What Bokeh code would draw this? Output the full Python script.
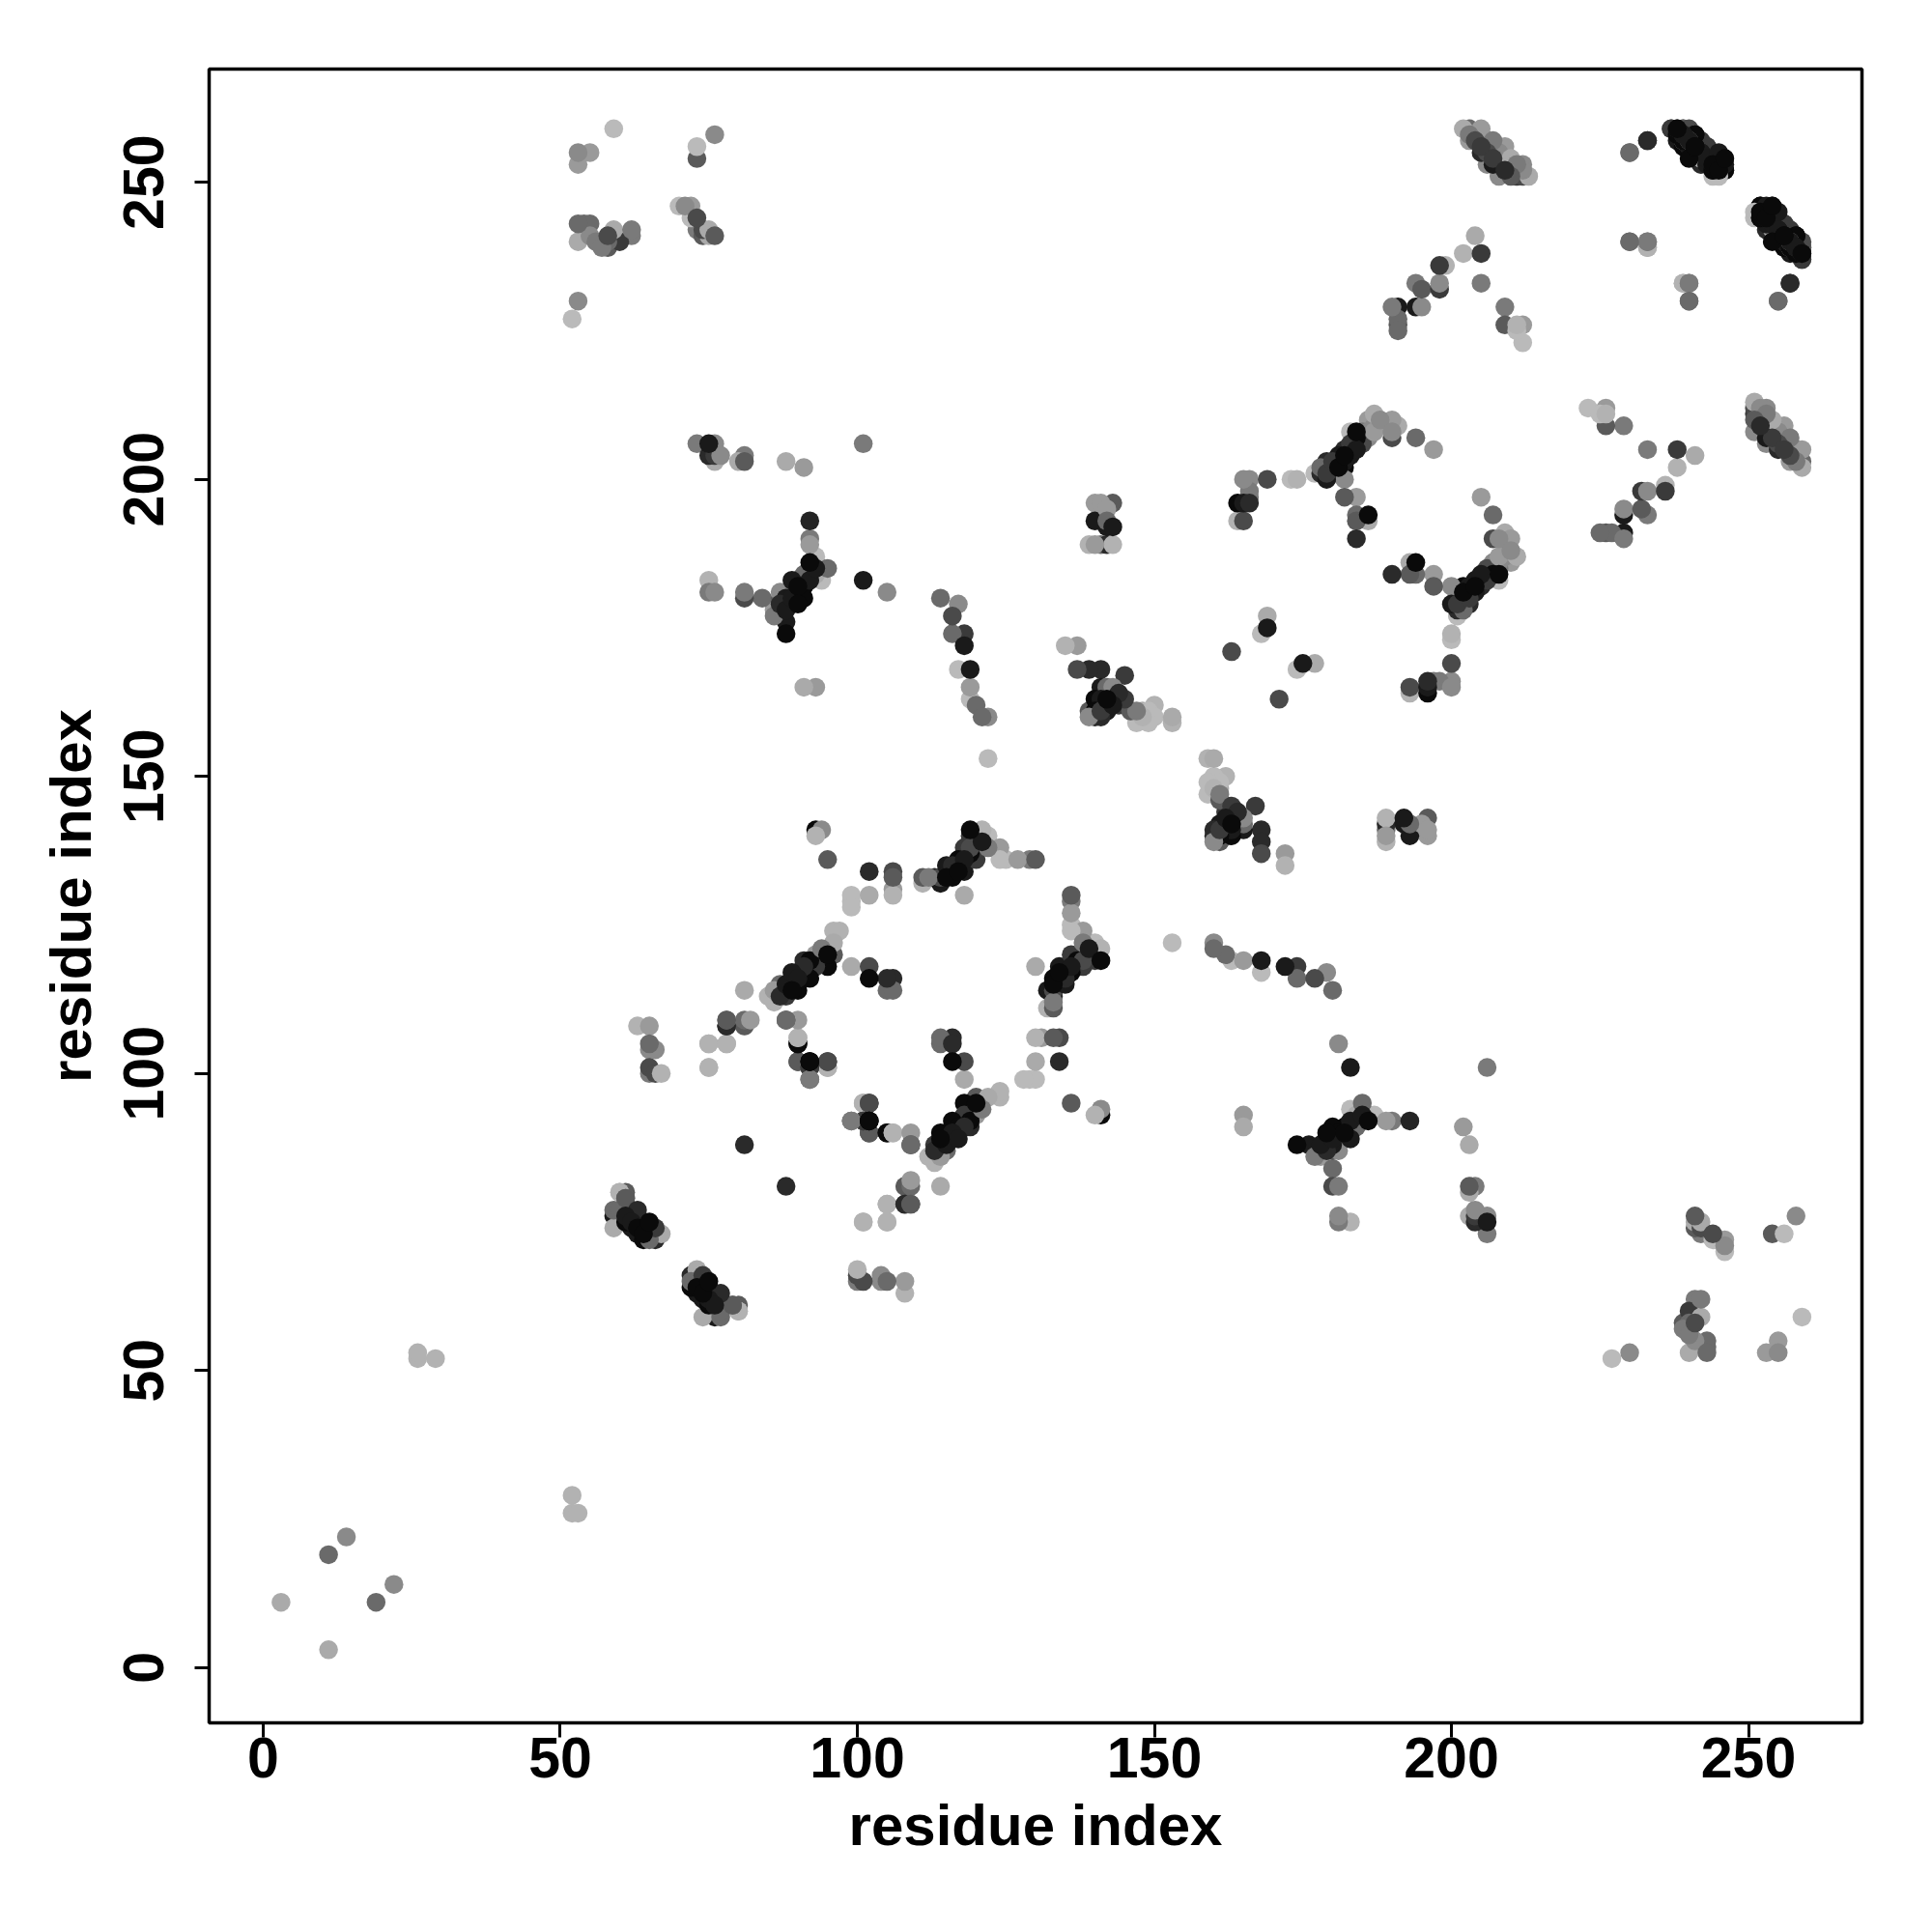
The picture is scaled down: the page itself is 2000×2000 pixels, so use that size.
from bokeh.plotting import figure
from bokeh.models import ColumnDataSource, FixedTicker, Range1d
from bokeh.embed import file_html
from bokeh.resources import INLINE

# Contacts read from the upper triangle (j > i); the map is symmetric.
# g = grey level of the point (0 black .. 176 light).
far_i = [3, 11, 14, 26, 26, 29]
far_j = [11, 19, 22, 52, 53, 52]
far_g = [160, 96, 128, 168, 168, 168]

tl_i = [52, 53, 53, 53, 55, 59, 53, 53, 54, 55, 55, 56, 57, 58, 58, 58, 60, 59, 62, 62,
        70, 71, 72, 72, 73, 73, 73, 76, 73, 74, 74, 75, 75, 76]
tl_j = [227, 230, 253, 255, 255, 259, 240, 243, 243, 243, 241, 240, 239, 239, 240, 241, 240, 242, 241, 242,
        246, 246, 246, 244, 244, 254, 256, 258, 242, 242, 241, 242, 241, 241]
tl_g = [176, 128, 144, 128, 144, 176, 160, 96, 96, 96, 128, 112, 112, 80, 96, 64, 48, 160, 112, 112,
        176, 128, 144, 176, 64, 80, 176, 128, 112, 64, 80, 160, 160, 80]

row_i = [73, 75, 75, 76, 76, 76, 77, 80, 81, 81, 88, 91, 101]
row_j = [206, 206, 204, 204, 203, 206, 204, 203, 203, 204, 203, 202, 206]
row_g = [112, 16, 32, 48, 160, 128, 128, 160, 80, 112, 160, 144, 112]

cross_i = [75, 75, 76, 81, 81, 84, 86, 86, 87, 87, 88, 88, 88, 89, 89, 90, 90, 91, 91, 92, 88,
           92, 92, 92, 92, 93, 93, 94, 94, 95, 101, 105, 91, 93,
           87, 88, 89, 89, 90, 90, 91, 91, 92, 92, 93, 93]
cross_j = [183, 181, 181, 180, 181, 180, 178, 177, 180, 181, 179, 176, 178, 183, 180, 182, 179, 183, 180, 185, 174,
           193, 190, 189, 184, 187, 184, 183, 185, 185, 183, 181, 165, 165,
           179, 180, 179, 181, 181, 183, 182, 184, 183, 186, 185, 186]
cross_g = [168, 112, 128, 64, 112, 96, 144, 112, 80, 128, 26, 16, 16, 16, 16, 0, 0, 48, 0, 0, 0,
           26, 112, 144, 160, 176, 160, 176, 96, 96, 16, 128, 160, 144,
           32, 16, 0, 48, 0, 16, 0, 96, 16, 0, 16, 160]

desc_i = [114, 116, 116, 118, 118, 117, 117, 119, 119, 119, 120, 121, 122, 122]
desc_j = [180, 177, 174, 174, 172, 179, 168, 168, 165, 163, 162, 160, 160, 153]
desc_g = [96, 64, 96, 48, 16, 128, 176, 16, 144, 176, 96, 96, 128, 176]

mid_i = [135, 137, 137, 139, 141, 145, 141, 142, 143, 144, 145, 143, 140, 140, 141, 140, 139, 142, 141,
         146, 147, 148, 149, 150, 147, 149, 148, 150, 153, 153,
         141, 142, 142, 143, 141, 139, 144, 144]
mid_j = [172, 172, 168, 168, 168, 167, 165, 165, 165, 164, 163, 163, 163, 161, 162, 160, 160, 161, 160,
         161, 161, 161, 161, 162, 159, 159, 160, 160, 160, 159,
         163, 163, 162, 162, 161, 161, 162, 163]
mid_g = [168, 144, 64, 32, 32, 48, 16, 96, 128, 32, 48, 0, 0, 0, 16, 32, 128, 16, 32,
         80, 112, 160, 176, 168, 176, 176, 168, 176, 160, 168,
         16, 0, 32, 16, 48, 80, 48, 32]

col_i = [140, 141, 142, 143, 140, 142, 142, 143, 139, 140, 141, 142, 143]
col_j = [196, 196, 195, 196, 193, 192, 193, 192, 189, 189, 189, 189, 189]
col_g = [144, 144, 144, 80, 16, 16, 96, 16, 168, 144, 96, 32, 168]

arc_i = [164, 165, 165, 166, 166, 166, 166, 169, 164, 165, 163, 169, 169, 168, 174, 173,
         177, 178, 178, 179, 179, 180, 181, 182, 182, 184, 184, 183, 187, 186, 186, 190, 191, 190, 190, 194, 197,
         182, 184, 184, 184, 186, 186, 184,
         179, 180, 180, 181, 181, 182, 182, 182, 183, 183, 184, 185, 185, 186, 187, 187, 188, 188]
arc_j = [196, 193, 196, 196, 197, 198, 200, 200, 193, 200, 171, 177, 175, 174, 200, 200,
         201, 202, 201, 201, 200, 203, 204, 202, 200, 208, 205, 208, 211, 210, 208, 210, 209, 208, 207, 207, 205,
         197, 197, 194, 193, 194, 193, 190,
         203, 201, 202, 202, 203, 203, 204, 205, 204, 206, 207, 206, 208, 207, 208, 209, 209, 210]
arc_g = [0, 64, 16, 32, 112, 112, 128, 64, 168, 128, 64, 160, 16, 176, 168, 176,
         176, 96, 32, 48, 16, 48, 16, 0, 128, 0, 16, 176, 160, 144, 128, 144, 160, 128, 64, 96, 144,
         80, 144, 96, 80, 0, 160, 32,
         32, 16, 48, 0, 16, 16, 0, 32, 16, 48, 0, 64, 112, 128, 144, 128, 160, 128]

diag_i = [81, 85, 86, 86, 87, 88, 89, 89, 90, 90, 91, 92, 92, 93, 94, 95, 95, 96, 96, 96, 97,
          99, 102, 102, 105, 106, 105, 106,
          87, 88, 89, 90, 91, 91, 92, 93, 94, 94]
diag_j = [114, 113, 112, 114, 115, 113, 114, 117, 114, 116, 119, 116, 118, 120, 121, 118, 120, 120, 122, 124, 124,
          118, 118, 116, 116, 116, 114, 114,
          113, 115, 115, 117, 117, 118, 119, 118, 119, 120]
diag_g = [160, 168, 168, 144, 96, 48, 0, 16, 0, 16, 32, 0, 96, 144, 112, 0, 0, 80, 160, 168, 168,
          160, 64, 0, 32, 32, 96, 96,
          32, 16, 0, 16, 0, 32, 0, 48, 16, 64]

left_i = [75, 75, 78, 78, 78, 78, 81, 81, 81, 82, 88, 90, 90, 90, 90, 92, 92, 92, 95, 95,
          63, 65, 65, 65, 65, 65, 66, 66, 67, 81]
left_j = [105, 101, 105, 109, 108, 108, 109, 108, 108, 109, 109, 109, 106, 105, 102, 102, 101, 99, 102, 101,
          108, 108, 105, 104, 101, 100, 104, 100, 100, 88]
left_g = [168, 168, 168, 96, 64, 64, 96, 168, 80, 144, 96, 144, 168, 0, 96, 0, 48, 112, 80, 176,
          168, 144, 96, 128, 64, 112, 128, 64, 168, 32]

hex_i = [93, 94, 93, 95, 102, 106, 106, 106, 106, 102, 99, 99, 99, 111, 112, 111, 114, 115, 116, 117, 117, 118,
         119, 119, 119, 120, 118, 121, 122, 121, 122, 124, 124, 125, 127, 129, 130, 118,
         95, 95, 92, 92, 92, 90, 90, 90, 88, 88, 101, 101, 102, 102, 102, 99, 78, 78, 78, 75, 75,
         113, 114, 115, 115, 116, 116, 117, 118, 118, 119, 119, 120]
hex_j = [141, 141, 140, 136, 134, 134, 133, 131, 130, 130, 130, 129, 128, 133, 133, 132, 133, 134, 133, 134, 136, 134,
         141, 140, 138, 136, 137, 141, 140, 139, 138, 138, 136, 136, 136, 136, 136, 130,
         102, 101, 102, 99, 101, 102, 105, 106, 109, 109, 95, 92, 95, 92, 90, 92, 105, 108, 109, 101, 105,
         133, 132, 133, 135, 134, 135, 135, 136, 138, 137, 139, 138]
hex_g = [0, 128, 168, 80, 32, 64, 80, 144, 168, 160, 176, 176, 176, 80, 112, 168, 64, 32, 0, 0, 0, 16,
         0, 48, 64, 48, 96, 168, 176, 16, 112, 144, 176, 176, 144, 112, 80, 160,
         80, 176, 0, 112, 48, 96, 0, 168, 96, 96, 168, 64, 64, 0, 80, 144, 168, 32, 80, 168, 168,
         32, 16, 0, 16, 0, 32, 0, 16, 48, 0, 32, 48]

a_i = [202, 203, 205, 203, 207, 209, 210, 212, 213, 206, 208, 204, 205, 207, 209, 210, 211, 203,
       204, 205, 205, 206, 206, 207, 207, 208, 208, 209, 209, 210, 210, 211, 211, 212, 212, 206]
a_j = [259, 259, 259, 258, 257, 256, 254, 253, 251, 253, 251, 257, 255, 254, 252, 251, 251, 257,
       258, 258, 256, 256, 255, 255, 253, 255, 254, 254, 253, 253, 252, 253, 252, 252, 251, 257]
a_g = [160, 96, 144, 112, 112, 144, 160, 128, 160, 128, 128, 64, 32, 48, 32, 80, 48, 144,
       80, 96, 48, 16, 64, 112, 16, 128, 32, 160, 16, 128, 48, 112, 32, 128, 64, 96]

b_i = [230, 233, 237, 238, 239, 238, 241, 241, 240, 243, 244, 243, 245, 245, 245, 244, 241, 239, 242,
       239, 240, 240, 240, 241, 241, 242, 242, 242, 243, 243, 244, 244, 244, 246, 246, 246]
b_j = [255, 257, 259, 259, 259, 257, 258, 257, 255, 256, 255, 253, 254, 253, 252, 251, 254, 257, 254,
       258, 258, 257, 256, 256, 255, 256, 255, 253, 255, 254, 254, 253, 252, 254, 253, 252]
b_g = [112, 32, 64, 0, 80, 16, 0, 0, 16, 64, 128, 16, 0, 0, 0, 176, 32, 144, 160,
       16, 0, 16, 48, 0, 32, 96, 16, 32, 48, 16, 32, 0, 16, 0, 16, 0]

c_i = [251, 252, 254, 252, 254, 256, 253, 254, 258, 258, 259, 259, 258, 259, 253, 257,
       253, 253, 254, 255, 255, 255, 255, 256, 256, 256, 256, 257, 257, 257, 258, 259]
c_j = [245, 246, 246, 244, 244, 243, 243, 240, 241, 240, 239, 237, 238, 238, 242, 240,
       245, 244, 245, 245, 244, 243, 242, 242, 241, 240, 239, 242, 241, 239, 239, 240]
c_g = [176, 0, 16, 0, 128, 48, 16, 0, 0, 16, 80, 48, 0, 32, 160, 128,
       0, 16, 0, 16, 64, 48, 16, 32, 0, 16, 0, 48, 16, 0, 32, 64]

iso_i = [230, 233, 233, 239, 240, 240, 257, 255]
iso_j = [240, 240, 239, 233, 233, 230, 233, 230]
iso_g = [112, 112, 168, 168, 112, 96, 32, 96]

d_i = [204, 205, 202, 199, 198, 205, 194, 195, 198, 198, 190, 191, 194, 195, 191, 191, 191, 209, 209, 211, 212, 211, 212]
d_j = [241, 238, 238, 236, 236, 233, 233, 232, 233, 232, 229, 229, 229, 229, 227, 226, 225, 229, 226, 226, 226, 225, 223]
d_g = [160, 48, 168, 168, 48, 112, 112, 80, 128, 48, 112, 16, 16, 128, 96, 80, 96, 112, 80, 168, 144, 176, 176]

cl_i = [59, 59, 59, 61, 60, 61, 63, 61, 62, 63, 65, 64, 64, 65, 67, 66, 64, 60, 61,
        60, 60, 61, 62, 62, 63, 63, 64, 64, 65, 66]
cl_j = [74, 76, 77, 80, 80, 79, 77, 76, 74, 75, 75, 72, 75, 72, 73, 72, 75, 80, 79,
        77, 75, 75, 76, 75, 74, 73, 73, 74, 73, 74]
cl_g = [160, 16, 96, 80, 168, 80, 32, 16, 16, 96, 0, 0, 144, 96, 160, 32, 144, 168, 96,
        96, 16, 0, 112, 16, 0, 16, 0, 96, 16, 48]

tick_values = [0, 50, 100, 150, 200, 250]

groups = [(far_i, far_j, far_g), (tl_i, tl_j, tl_g), (row_i, row_j, row_g), (cross_i, cross_j, cross_g),
          (desc_i, desc_j, desc_g), (mid_i, mid_j, mid_g), (col_i, col_j, col_g), (arc_i, arc_j, arc_g),
          (diag_i, diag_j, diag_g), (left_i, left_j, left_g), (hex_i, hex_j, hex_g), (a_i, a_j, a_g),
          (b_i, b_j, b_g), (c_i, c_j, c_g), (iso_i, iso_j, iso_g), (d_i, d_j, d_g), (cl_i, cl_j, cl_g)]

xs, ys, gs = [], [], []
for gi, gj, gg in groups:
    assert len(gi) == len(gj) == len(gg)
    for a, b, g in zip(gi, gj, gg):
        xs += [a, b]
        ys += [b, a]
        gs += [g, g]

# palest points underneath the dark bands, a few of them stay on top at the band ends
order = sorted(range(len(xs)), key=lambda k: (xs[k] + ys[k]) % 3 * 100 - gs[k] / 2 + xs[k] / 1000)
src = ColumnDataSource(dict(x=[xs[k] for k in order], y=[ys[k] for k in order],
                            c=["#%02x%02x%02x" % (gs[k] + 10, gs[k] + 10, gs[k] + 10) for k in order]))

p = figure(frame_width=1711, frame_height=1712, output_backend="svg", toolbar_location=None,
           x_range=Range1d(-9.1, 269.1), y_range=Range1d(-9.3, 269.05),
           min_border_left=216, min_border_top=71, min_border_right=50, min_border_bottom=200,
           background_fill_color="white", border_fill_color="white")
p.scatter("x", "y", source=src, size=19.5, fill_color="c", line_color=None)
p.grid.visible = False
p.outline_line_color = "black"
p.outline_line_width = 3.5
p.outline_line_alpha = 1

for ax in (p.xaxis[0], p.yaxis[0]):
    ax.ticker = FixedTicker(ticks=tick_values)
    ax.axis_line_color = None
    ax.major_tick_line_color = "black"
    ax.major_tick_line_width = 3
    ax.major_tick_in = 0
    ax.major_tick_out = 15
    ax.minor_tick_line_color = None
    ax.major_label_text_font = "Liberation Sans"
    ax.major_label_text_font_style = "bold"
    ax.major_label_text_font_size = "59px"
    ax.major_label_text_color = "black"
    ax.axis_label = "residue index"
    ax.axis_label_text_font = "Liberation Sans"
    ax.axis_label_text_font_style = "bold"
    ax.axis_label_text_font_size = "60px"
    ax.axis_label_text_color = "black"
p.yaxis[0].major_label_orientation = "vertical"
p.xaxis[0].major_label_standoff = 0
p.yaxis[0].major_label_standoff = 32
p.xaxis[0].axis_label_standoff = 13
p.yaxis[0].axis_label_standoff = 19

open("out.html", "w").write(file_html(p, INLINE))
